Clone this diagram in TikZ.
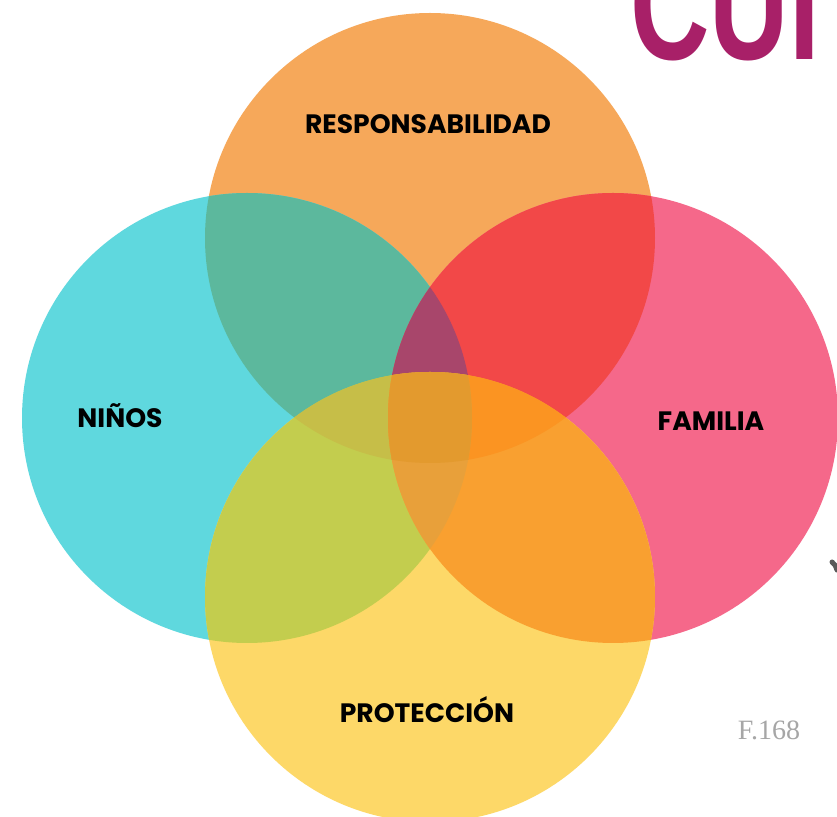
\documentclass[tikz,border=0pt]{standalone}
\usepackage{fontspec}
\newfontfamily\poppins{Poppins}
\newfontfamily\titulo{Liberation Sans}
\newfontfamily\pie{Liberation Serif}
\usepackage{tikz}
\usetikzlibrary{positioning}
% base colours
\definecolor{naranja}{HTML}{F6A85A}
\definecolor{turquesa}{HTML}{5FD8DE}
\definecolor{rosa}{HTML}{F5688A}
\definecolor{amarillo}{HTML}{FDD868}
% overlaps
\definecolor{naranjaturquesa}{HTML}{5CB89D}
\definecolor{naranjarosa}{HTML}{F24848}
\definecolor{amarilloturquesa}{HTML}{C3CD4E}
\definecolor{amarillorosa}{HTML}{F9A030}
\definecolor{trioA}{HTML}{A8466B}
\definecolor{trioB}{HTML}{C6BE48}
\definecolor{trioC}{HTML}{FB9422}
\definecolor{trioD}{HTML}{E8A03A}
\definecolor{centro}{HTML}{E39A2E}
\definecolor{magenta}{HTML}{A82068}
\definecolor{gris}{HTML}{A6A6A6}

\begin{document}
\begin{tikzpicture}[x=0.5pt,y=-0.5pt,
    etiqueta/.style={font=\poppins\bfseries\fontsize{13.3}{15}\selectfont, text=black, inner sep=0pt}]
    \useasboundingbox (0,0) rectangle (837,817);
    \clip (0,0) rectangle (837,817);
    \fill[white] (0,0) rectangle (837,817);
    \def\radio{225}
    % circle centres
    \coordinate (cResp) at (430,238);
    \coordinate (cNinos) at (247,418);
    \coordinate (cFam) at (613,418);
    \coordinate (cProt) at (430,597);

    \fill[naranja] (cResp) circle (\radio);
    \fill[turquesa] (cNinos) circle (\radio);
    \fill[rosa] (cFam) circle (\radio);
    \fill[amarillo] (cProt) circle (\radio);

    % two circles
    \begin{scope}
        \clip (cResp) circle (\radio);
        \fill[naranjaturquesa] (cNinos) circle (\radio);
        \fill[naranjarosa] (cFam) circle (\radio);
    \end{scope}
    \begin{scope}
        \clip (cProt) circle (\radio);
        \fill[amarilloturquesa] (cNinos) circle (\radio);
        \fill[amarillorosa] (cFam) circle (\radio);
    \end{scope}

    % three circles
    \begin{scope}
        \clip (cResp) circle (\radio);
        \clip (cNinos) circle (\radio);
        \fill[trioA] (cFam) circle (\radio);
        \fill[trioB] (cProt) circle (\radio);
    \end{scope}
    \begin{scope}
        \clip (cProt) circle (\radio);
        \clip (cFam) circle (\radio);
        \fill[trioC] (cResp) circle (\radio);
        \fill[trioD] (cNinos) circle (\radio);
    \end{scope}

    % all four
    \begin{scope}
        \clip (cResp) circle (\radio);
        \clip (cNinos) circle (\radio);
        \clip (cFam) circle (\radio);
        \fill[centro] (cProt) circle (\radio);
    \end{scope}

    \node[etiqueta] (responsabilidad) at (428,124) {RESPONSABILIDAD};
    \node[etiqueta] (ninos) at (120,416) {NIÑOS};
    \node[etiqueta] (familia) at (711,421) {FAMILIA};
    \node[etiqueta] (proteccion) at (427,710) {PROTECCIÓN};

    \node[anchor=base west, inner sep=0pt, text=magenta,
        font=\titulo\bfseries\fontsize{55}{55}\selectfont] (titulo) at (630,60) {\scalebox{1}[1.45]{CUI}};
    \node[font=\pie\fontsize{14}{16}\selectfont, text=gris, inner sep=0pt] (figura) at (769,730) {F.168};
    \draw[line width=2.5pt, gray!70!black, line cap=round] (832,562) to[bend left=20] (837,570);
\end{tikzpicture}
\end{document}
